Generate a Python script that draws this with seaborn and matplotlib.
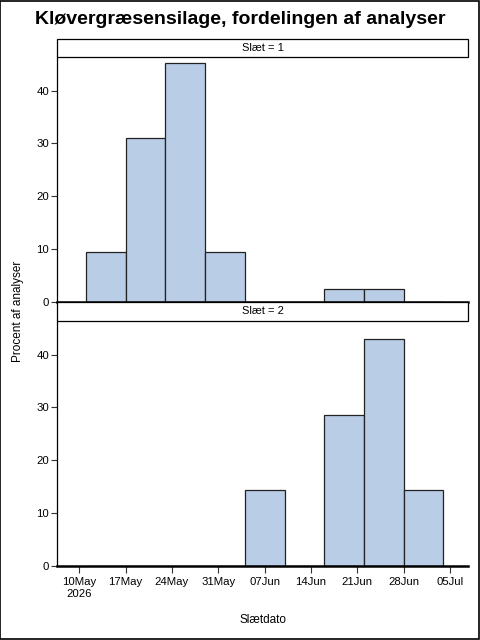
import pandas as pd
import numpy as np
import matplotlib
matplotlib.use("Agg")
import matplotlib.pyplot as plt
import matplotlib.dates as mdates
from matplotlib.patches import Rectangle
import seaborn as sns

# 6-day bins (left edges)
bin_edges = ["2026-05-11", "2026-05-17", "2026-05-23", "2026-05-29", "2026-06-04",
             "2026-06-10", "2026-06-16", "2026-06-22", "2026-06-28", "2026-07-04"]
pct_slaet1 = [9.52, 30.95, 45.24, 9.52, 0, 0, 2.38, 2.38, 0]
pct_slaet2 = [0, 0, 0, 0, 14.29, 0, 28.57, 42.86, 14.29]

tick_dates = ["2026-05-10", "2026-05-17", "2026-05-24", "2026-05-31", "2026-06-07",
              "2026-06-14", "2026-06-21", "2026-06-28", "2026-07-05"]
tick_labels = ["10May\n2026", "17May", "24May", "31May", "07Jun",
               "14Jun", "21Jun", "28Jun", "05Jul"]
y_ticks = [0, 10, 20, 30, 40]

edges = [float(e) for e in mdates.date2num(pd.to_datetime(bin_edges))]
mids = [(a + b) / 2 for a, b in zip(edges[:-1], edges[1:])]

df = pd.DataFrame({
    "Slæt": [1] * len(pct_slaet1) + [2] * len(pct_slaet2),
    "dato": mids + mids,
    "procent": pct_slaet1 + pct_slaet2,
})

sns.set_style("white")
plt.rcParams["font.family"] = ["Liberation Sans", "DejaVu Sans"]
plt.rcParams["text.color"] = "black"
plt.rcParams["xtick.color"] = "black"
plt.rcParams["ytick.color"] = "black"

g = sns.FacetGrid(df, row="Slæt", sharex=True, sharey=True, height=3, aspect=1.6)
g.map_dataframe(sns.histplot, x="dato", weights="procent", bins=edges,
                color="#B9CDE6", alpha=1, edgecolor="#222222", linewidth=0.9)
g.set_titles("")
g.set_axis_labels("", "")

fig = g.figure
fig.set_size_inches(4.8, 6.4)

W, H = 480, 640
left, right = 57.3, 468.3
panels = [(56.7, 302.0), (320.7, 566.0)]
strips = [(39.3, 56.7), (302.0, 320.7)]
tick_num = mdates.date2num(pd.to_datetime(tick_dates))
x0 = mdates.date2num(pd.Timestamp("2026-05-10")) - 3.32
x1 = mdates.date2num(pd.Timestamp("2026-07-05")) + 2.76

for i, ax in enumerate(g.axes.flat):
    top, bot = panels[i]
    ax.set_position([left / W, 1 - bot / H, (right - left) / W, (bot - top) / H])
    ax.set_xlim(x0, x1)
    ax.set_ylim(0, 46.4)
    ax.set_yticks(y_ticks)
    ax.set_yticklabels([str(v) for v in y_ticks], fontsize=8.2)
    ax.tick_params(axis="y", left=True, length=4, width=0.8, color="#333333",
                   labelcolor="black", pad=2)
    for s in ["left", "right"]:
        ax.spines[s].set_linewidth(0.9)
        ax.spines[s].set_color("black")
    for s in ["top", "bottom"]:
        ax.spines[s].set_linewidth(1.8)
        ax.spines[s].set_color("black")
    # strip header
    st, sb = strips[i]
    fig.add_artist(Rectangle((left / W, 1 - sb / H), (right - left) / W, (sb - st) / H,
                             transform=fig.transFigure, facecolor="white",
                             edgecolor="black", linewidth=0.9))
    fig.text((left + right) / 2 / W, 1 - (st + sb) / 2 / H, f"Slæt = {i + 1}",
             ha="center", va="center", fontsize=8, color="black")

ax2 = g.axes.flat[1]
ax2.set_xticks(tick_num)
ax2.set_xticklabels(tick_labels, fontsize=8.2)
ax2.tick_params(axis="x", bottom=True, length=5, width=0.8, color="#333333",
                labelcolor="black", pad=3)
g.axes.flat[0].tick_params(axis="x", bottom=False, labelbottom=False)

fig.text(240 / W, 1 - 20 / H, "Kløvergræsensilage, fordelingen af analyser",
         ha="center", va="center", fontsize=14, fontweight="bold", color="black")
fig.text((left + right) / 2 / W, 1 - 620 / H, "Slætdato",
         ha="center", va="center", fontsize=8.5, color="black")
fig.text(18 / W, 1 - 311 / H, "Procent af analyser", rotation=90,
         ha="center", va="center", fontsize=8.5, color="black")

fig.add_artist(Rectangle((0.001, 0.001), 0.997, 0.997, transform=fig.transFigure,
                         facecolor="none", edgecolor="black", linewidth=1.2))

fig.savefig("out.png", dpi=100)
